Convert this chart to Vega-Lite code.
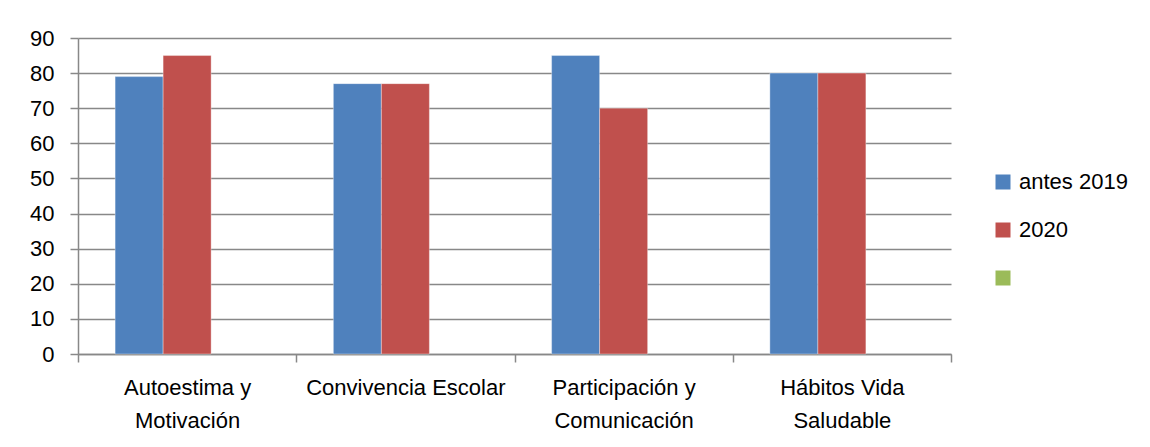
{
  "$schema": "https://vega.github.io/schema/vega-lite/v6.json",
  "width": 873,
  "height": 316,
  "autosize": {"type": "none"},
  "padding": {"left": 78, "top": 38, "right": 199, "bottom": 93},
  "background": "#ffffff",
  "config": {
    "view": {"stroke": null},
    "font": "Liberation Sans",
    "axis": {"labelFont": "Liberation Sans", "labelFontSize": 22, "labelColor": "#000000", "domainColor": "#888888", "tickColor": "#888888", "gridColor": "#888888", "labelLimit": 0},
    "legend": {"labelFont": "Liberation Sans", "labelFontSize": 22, "labelColor": "#000000", "labelLimit": 0}
  },
  "data": {
    "values": [
      {"area": "Autoestima y Motivación", "serie": "antes 2019", "valor": 79},
      {"area": "Autoestima y Motivación", "serie": "2020", "valor": 85},
      {"area": "Autoestima y Motivación", "serie": "s3", "valor": null},
      {"area": "Convivencia Escolar", "serie": "antes 2019", "valor": 77},
      {"area": "Convivencia Escolar", "serie": "2020", "valor": 77},
      {"area": "Convivencia Escolar", "serie": "s3", "valor": null},
      {"area": "Participación y Comunicación", "serie": "antes 2019", "valor": 85},
      {"area": "Participación y Comunicación", "serie": "2020", "valor": 70},
      {"area": "Participación y Comunicación", "serie": "s3", "valor": null},
      {"area": "Hábitos Vida Saludable", "serie": "antes 2019", "valor": 80},
      {"area": "Hábitos Vida Saludable", "serie": "2020", "valor": 80},
      {"area": "Hábitos Vida Saludable", "serie": "s3", "valor": null}
    ]
  },
  "encoding": {
    "x": {
      "field": "area",
      "type": "nominal",
      "sort": null,
      "scale": {"paddingInner": 0, "paddingOuter": 0},
      "axis": {
        "title": null,
        "labelAngle": 0,
        "ticks": true,
        "tickBand": "extent",
        "tickSize": 8,
        "tickWidth": 1.5,
        "labelPadding": 15,
        "labelLineHeight": 33,
        "labelLimit": 0,
        "domainWidth": 1.5,
        "labelExpr": "datum.label == 'Autoestima y Motivación' ? ['Autoestima y', 'Motivación'] : datum.label == 'Participación y Comunicación' ? ['Participación y', 'Comunicación'] : datum.label == 'Hábitos Vida Saludable' ? ['Hábitos Vida', 'Saludable'] : datum.label"
      }
    },
    "xOffset": {
      "field": "serie",
      "type": "nominal",
      "sort": ["antes 2019", "2020", "s3"],
      "scale": {"domain": ["antes 2019", "2020", "s3"], "paddingInner": 0, "paddingOuter": 0.773}
    },
    "y": {
      "field": "valor",
      "type": "quantitative",
      "scale": {"domain": [0, 90], "nice": false},
      "axis": {
        "title": null,
        "values": [0, 10, 20, 30, 40, 50, 60, 70, 80, 90],
        "tickSize": 8,
        "tickWidth": 1.5,
        "labelPadding": 16,
        "domainWidth": 1.5,
        "gridWidth": 1.5
      }
    },
    "color": {
      "field": "serie",
      "type": "nominal",
      "scale": {"domain": ["antes 2019", "2020", "s3"], "range": ["#4f81bd", "#c0504d", "#9bbb59"]},
      "legend": {
        "title": null,
        "orient": "none",
        "legendX": 914,
        "legendY": 133,
        "symbolType": "square",
        "symbolSize": 225,
        "symbolStrokeWidth": 0,
        "symbolOpacity": 1,
        "rowPadding": 26,
        "labelOffset": 5,
        "labelExpr": "datum.label == 's3' ? '' : datum.label"
      }
    }
  },
  "mark": {"type": "bar", "stroke": "#ffffff", "strokeOpacity": 0.35, "strokeWidth": 1}
}
